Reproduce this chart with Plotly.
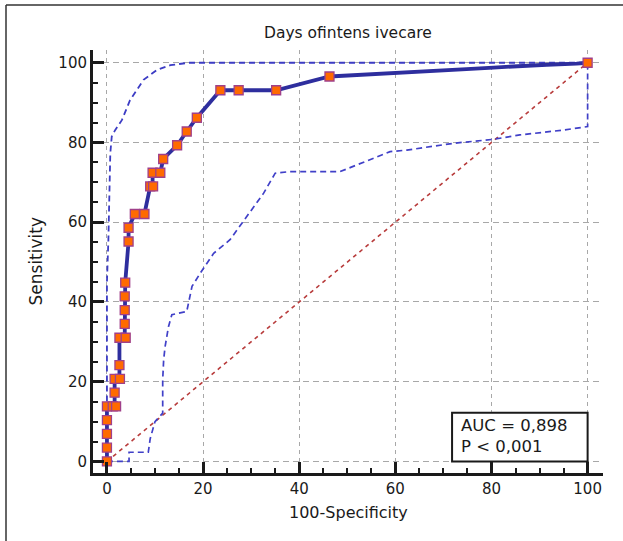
import plotly.graph_objects as go

# ---- data ----
title_text = "Days ofintens ivecare"
x_title = "100-Specificity"
y_title = "Sensitivity"
tick_vals = [0, 20, 40, 60, 80, 100]
tick_text = ["0", "20", "40", "60", "80", "100"]

# ROC curve (line)
roc_x = [0, 0, 1.6, 1.6, 2.6, 2.6, 3.7, 3.8, 4.5, 4.5, 5.8, 7.8, 9.0, 9.5, 9.5, 11.1, 11.7,
         14.6, 16.6, 18.7, 23.6, 35.2, 46.3, 52.3, 58.2, 63.7, 69.3, 74.8, 80.4, 85.9, 91.5, 97.7, 100]
roc_y = [0, 13.79, 13.79, 20.69, 20.69, 31.03, 31.03, 44.83, 55.17, 58.62, 62.07, 62.07, 68.97,
         68.97, 72.41, 72.41, 75.86, 79.31, 82.76, 86.21, 93.1, 93.1, 96.55, 96.9, 97.3, 97.7,
         98.1, 98.4, 98.8, 99.2, 99.5, 99.8, 100]

# ROC criterion points (markers)
pt_x = [0, 0, 0, 0, 0, 1.2, 1.9, 1.6, 1.6, 2.7, 2.6, 2.6, 3.9, 3.7, 3.7, 3.7, 3.8, 4.5, 4.5,
        5.8, 7.8, 9.0, 9.6, 9.5, 11.1, 11.7, 14.6, 16.6, 18.7, 23.6, 27.4, 35.2, 46.3, 100]
pt_y = [0, 3.45, 6.9, 10.34, 13.79, 13.79, 13.79, 17.24, 20.69, 20.69, 24.14, 31.03, 31.03,
        34.48, 37.93, 41.38, 44.83, 55.17, 58.62, 62.07, 62.07, 68.97, 68.97, 72.41, 72.41,
        75.86, 79.31, 82.76, 86.21, 93.1, 93.1, 93.1, 96.55, 100]

# 95% confidence bounds
up_x = [0, 0, 0.3, 0.7, 1.0, 1.7, 3.1, 4.8, 7.6, 10.4, 13.2, 17.0, 100]
up_y = [0, 45, 55.6, 77.3, 81.5, 83.1, 85.6, 90.6, 95.7, 98.2, 99.4, 100, 100]

lo_x = [0, 4.6, 4.6, 8.6, 9.0, 10.0, 11.6, 11.6, 11.8, 12.1, 12.8, 13.5, 16.6, 17.7, 19.4,
        20.4, 22.2, 25.6, 29.1, 32.6, 35.0, 38.1, 48.5, 50.9, 58.9, 62.4, 72.1, 80.4, 85.9,
        94.9, 100, 100]
lo_y = [0, 0, 2.3, 2.3, 5.7, 10.0, 12.1, 20.5, 25.5, 28.8, 33.8, 36.8, 37.6, 43.9, 47.2,
        48.9, 52.2, 55.6, 61.4, 67.3, 72.3, 72.7, 72.7, 73.9, 77.7, 78.1, 79.8, 80.8, 81.9,
        83.1, 84.0, 100]

diag_x = [0, 100]
diag_y = [0, 100]

auc_text = "AUC = 0,898"
p_text = "P &lt; 0,001"

# ---- figure ----
W, H = 623, 541
ML, MR, MT, MB = 93, 20, 50, 68
PW, PH = W - ML - MR, H - MT - MB

def px_x(p):
    return (p - ML) / PW

def px_y(p):
    return (H - MB - p) / PH

FONT = "DejaVu Sans"
ink = "#1a1a1a"

fig = go.Figure()
fig.add_trace(go.Scatter(x=diag_x, y=diag_y, mode="lines",
                         line=dict(color="#b83c3c", width=1.6, dash="4px,4px"),
                         hoverinfo="skip", showlegend=False))
fig.add_trace(go.Scatter(x=up_x, y=up_y, mode="lines",
                         line=dict(color="#3c3cc4", width=1.8, dash="6px,4px"),
                         showlegend=False))
fig.add_trace(go.Scatter(x=lo_x, y=lo_y, mode="lines",
                         line=dict(color="#4040c8", width=1.7, dash="6px,4px"),
                         showlegend=False))
fig.add_trace(go.Scatter(x=roc_x, y=roc_y, mode="lines",
                         line=dict(color="#2e2e9e", width=3.8),
                         showlegend=False))
fig.add_trace(go.Scatter(x=pt_x, y=pt_y, mode="markers",
                         marker=dict(symbol="square", size=9, color="#ff6a00",
                                     line=dict(color="#a0408a", width=1.3)),
                         showlegend=False))

axis_common = dict(
    tickvals=tick_vals, ticktext=tick_text,
    ticks="inside", ticklen=11, tickwidth=2.5, tickcolor=ink,
    showline=True, linewidth=3, linecolor=ink,
    showgrid=True, gridcolor="#a8a8a8", gridwidth=1.4,
    zeroline=False,
    tickfont=dict(family=FONT, size=15, color=ink),
    minor=dict(dtick=5, tick0=0, ticks="inside", ticklen=5, tickwidth=1.5,
               tickcolor=ink, showgrid=False),
)

fig.update_xaxes(range=[-2.9, 103.2], griddash="4px,4px", **axis_common)
fig.update_yaxes(range=[-2.9, 103.2], griddash="6px,4px", **axis_common)

annotations = [
    dict(text=title_text, xref="paper", yref="paper", x=0.5, y=px_y(33),
         xanchor="center", yanchor="middle", showarrow=False,
         font=dict(family=FONT, size=15.5, color=ink)),
    dict(text=x_title, xref="paper", yref="paper", x=0.5, y=px_y(512),
         xanchor="center", yanchor="middle", showarrow=False,
         font=dict(family=FONT, size=16, color=ink)),
    dict(text=y_title, xref="paper", yref="paper", x=px_x(35), y=0.5,
         xanchor="center", yanchor="middle", textangle=-90, showarrow=False,
         font=dict(family=FONT, size=17, color=ink)),
    dict(text=auc_text + "<br>" + p_text, xref="x", yref="y", x=73.3, y=6.3,
         xanchor="left", yanchor="middle", align="left", showarrow=False,
         font=dict(family=FONT, size=16.5, color=ink)),
]

shapes = [
    # statistics box
    dict(type="rect", xref="x", yref="y", x0=71.8, x1=100, y0=0, y1=12.2,
         line=dict(color=ink, width=2), fillcolor="white", layer="above"),
    # outer frame (left and top edges)
    dict(type="line", xref="paper", yref="paper", x0=px_x(6), x1=px_x(6),
         y0=px_y(5), y1=px_y(541), line=dict(color="#333", width=1.5)),
    dict(type="line", xref="paper", yref="paper", x0=px_x(6), x1=px_x(623),
         y0=px_y(5), y1=px_y(5), line=dict(color="#333", width=1.5)),
]

fig.update_layout(
    width=W, height=H, autosize=False,
    margin=dict(l=ML, r=MR, t=MT, b=MB),
    paper_bgcolor="white", plot_bgcolor="white",
    annotations=annotations, shapes=shapes,
    showlegend=False,
)

fig.write_html(
    "out.html",
    config={"displayModeBar": False},
    post_script="document.body.style.margin='0px';document.body.style.overflow='hidden';",
)
